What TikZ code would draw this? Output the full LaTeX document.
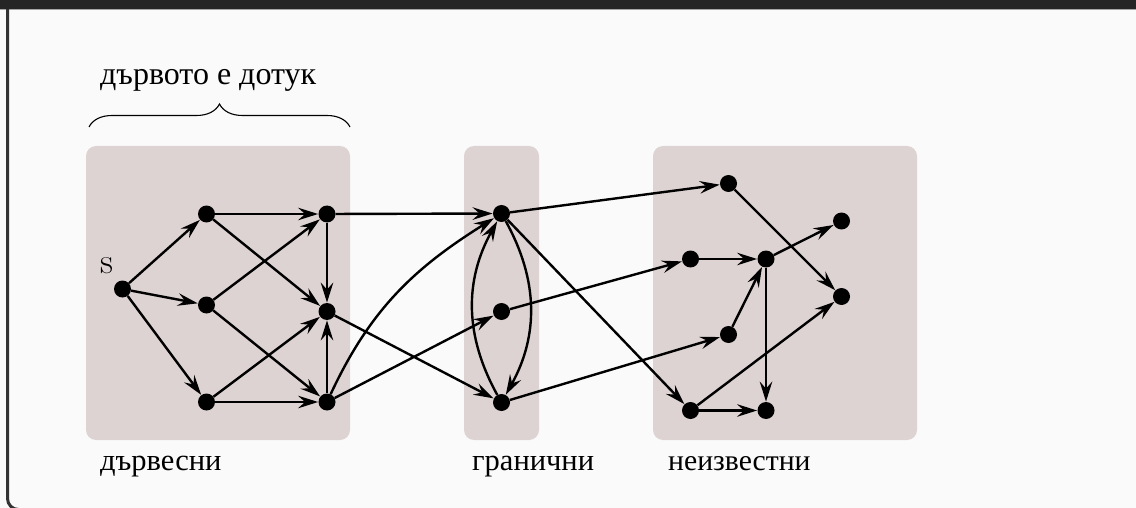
\documentclass[tikz,border=0pt]{standalone}
\usepackage{fontspec}
\setmainfont{Liberation Serif}
\newfontfamily\lmfont{Latin Modern Roman}
\usetikzlibrary{arrows.meta,decorations.pathreplacing}
\definecolor{pagebg}{HTML}{FAFAFA}
\definecolor{headbar}{HTML}{252525}
\definecolor{framecol}{HTML}{333333}
\definecolor{panelcol}{HTML}{DED3D3}
\tikzset{
  vtx/.style={circle, fill=black, inner sep=0pt, minimum size=17pt},
  edge/.style={line width=2.4pt, -{Stealth[length=20pt,width=12.5pt,inset=7pt]}, shorten >=0.2pt},
  panel/.style={fill=panelcol, rounded corners=10pt},
  lbl/.style={font=\fontsize{30.5}{36}\selectfont, inner sep=0pt, anchor=base west},
}
\begin{document}
\begin{tikzpicture}[x=1pt,y=-1pt]
\useasboundingbox (0,0) rectangle (1136,508);
\clip (0,0) rectangle (1136,508);
\fill[pagebg] (0,0) rectangle (1136,508);
\fill[headbar] (0,0) rectangle (1136,9);
\draw[gray!70, line width=1pt] (0,9.5) -- (1136,9.5);
\draw[framecol, line width=3pt, rounded corners=11pt] (7.5,9) -- (7.5,509.5) -- (1136,509.5);
% panels
\fill[panel] (86,146) rectangle (350,440);
\fill[panel] (464,146) rectangle (539,440);
\fill[panel] (653,146) rectangle (917,440);
% brace and texts
\draw[line width=1.1pt, decorate, decoration={brace, amplitude=23pt}] (89,127) -- (350,127);
\node[lbl, font=\fontsize{32}{38}\selectfont] (top) at (100,85) {дървото е дотук};
\node[lbl] (l1) at (100,470.5) {дървесни};
\node[lbl] (l2) at (472,470.5) {гранични};
\node[lbl, font=\fontsize{29.7}{36}\selectfont] (l3) at (668,470.5) {неизвестни};
% vertices
\node[vtx] (s) at (122.5,289) {};
\node[font=\lmfont\fontsize{36}{40}\selectfont, inner sep=0pt] (slbl) at (107,266) {s};
\node[vtx] (a1) at (206.5,214) {};
\node[vtx] (a2) at (206.5,305) {};
\node[vtx] (a3) at (206.5,402) {};
\node[vtx] (b1) at (327,214) {};
\node[vtx] (b2) at (327,311.5) {};
\node[vtx] (b3) at (327,402) {};
\node[vtx] (c1) at (501.5,213.5) {};
\node[vtx] (c2) at (501.5,311.5) {};
\node[vtx] (c3) at (501.5,402.5) {};
\node[vtx] (d1) at (728.5,183.5) {};
\node[vtx] (d2) at (690.5,259) {};
\node[vtx] (d3) at (766,259) {};
\node[vtx] (d4) at (841.5,221) {};
\node[vtx] (d5) at (841.5,296.5) {};
\node[vtx] (d6) at (728.5,334.5) {};
\node[vtx] (d7) at (690.5,410.5) {};
\node[vtx] (d8) at (766,410.5) {};
% edges
\draw[edge] (s) -- (a1);
\draw[edge] (s) -- (a2);
\draw[edge] (s) -- (a3);
\draw[edge] (a1) -- (b1);
\draw[edge] (a1) -- (b2);
\draw[edge] (a2) -- (b1);
\draw[edge] (a2) -- (b3);
\draw[edge] (a3) -- (b2);
\draw[edge] (a3) -- (b3);
\draw[edge] (b1) -- (b2);
\draw[edge] (b3) -- (b2);
\draw[edge] (b1) -- (c1);
\draw[edge] (b3) to[out=65, in=212] (c1);
\draw[edge] (b3) -- (c2);
\draw[edge] (b2) -- (c3);
\draw[edge] (c1) to[bend left=29] (c3);
\draw[edge] (c3) to[bend left=29] (c1);
\draw[edge] (c1) -- (d1);
\draw[edge] (c2) -- (d2);
\draw[edge] (c3) -- (d6);
\draw[edge] (c1) -- (d7);
\draw[edge] (d2) -- (d3);
\draw[edge] (d6) -- (d3);
\draw[edge] (d3) -- (d4);
\draw[edge] (d3) -- (d8);
\draw[edge] (d1) -- (d5);
\draw[edge] (d7) -- (d5);
\draw[edge] (d7) -- (d8);
\end{tikzpicture}
\end{document}
